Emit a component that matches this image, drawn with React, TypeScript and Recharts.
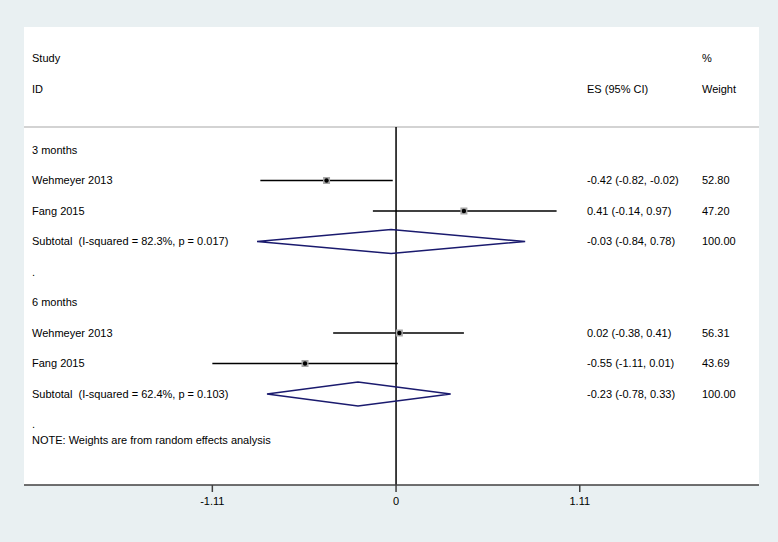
import { ScatterChart, Scatter, XAxis, YAxis, ReferenceLine, CartesianGrid } from 'recharts'

// rows are counted from the "Study" header line (row 0)
const studyNames = ['Wehmeyer 2013', 'Fang 2015', 'Wehmeyer 2013', 'Fang 2015']
const studyRows = [4, 5, 9, 10]
const studyES = [-0.42, 0.41, 0.02, -0.55]
const studyLow = [-0.82, -0.14, -0.38, -1.11]
const studyHigh = [-0.02, 0.97, 0.41, 0.01]
const studyWeights = ['52.80', '47.20', '56.31', '43.69']

const subtotalLabels = [
  'Subtotal  (I-squared = 82.3%, p = 0.017)',
  'Subtotal  (I-squared = 62.4%, p = 0.103)',
]
const subtotalRows = [6, 11]
const subtotalES = [-0.03, -0.23]
const subtotalLow = [-0.84, -0.78]
const subtotalHigh = [0.78, 0.33]
const subtotalWeights = ['100.00', '100.00']

const groupLabels = ['3 months', '6 months']
const groupRows = [3, 8]
const spacerRows = [7, 12]
const noteText = 'NOTE: Weights are from random effects analysis'
const noteRow = 12.52

const xTicks = [-1.11, 0, 1.11]
const xDomain = [-2.248, 2.193]
const yDomain = [-1.033, 13.984]
const headerRule = 2.246
const diamondHalf = 0.39

const FONT = '"Liberation Sans", Arial, Helvetica, sans-serif'
const COL_LEFT = 32
const COL_ES = 587
const COL_WEIGHT = 702

const fmt = (v: number) => v.toFixed(2)
const esText = (e: number, l: number, h: number) => `${fmt(e)} (${fmt(l)}, ${fmt(h)})`

type TextRowT = { x: number; y: number; left?: string; es?: string; w?: string }

const textRows: TextRowT[] = [
  { x: 0, y: 0, left: 'Study', w: '%' },
  { x: 0, y: 1, left: 'ID', es: 'ES (95% CI)', w: 'Weight' },
  ...groupLabels.map((g, i) => ({ x: 0, y: groupRows[i], left: g })),
  ...studyNames.map((n, i) => ({
    x: 0,
    y: studyRows[i],
    left: n,
    es: esText(studyES[i], studyLow[i], studyHigh[i]),
    w: studyWeights[i],
  })),
  ...subtotalLabels.map((s, i) => ({
    x: 0,
    y: subtotalRows[i],
    left: s,
    es: esText(subtotalES[i], subtotalLow[i], subtotalHigh[i]),
    w: subtotalWeights[i],
  })),
  ...spacerRows.map(r => ({ x: 0, y: r, left: '.' })),
  { x: 0, y: noteRow, left: noteText },
]

const markerData = studyES.map((e, i) => ({ x: e, y: studyRows[i] }))

const ciData = studyES.map((_, i) => [
  { x: studyLow[i], y: studyRows[i] },
  { x: studyHigh[i], y: studyRows[i] },
])

const diamondData = subtotalES.map((e, i) => [
  { x: subtotalLow[i], y: subtotalRows[i] },
  { x: e, y: subtotalRows[i] - diamondHalf },
  { x: subtotalHigh[i], y: subtotalRows[i] },
  { x: e, y: subtotalRows[i] + diamondHalf },
  { x: subtotalLow[i], y: subtotalRows[i] },
])

// eslint-disable-next-line @typescript-eslint/no-explicit-any
const TextShape = (props: any) => {
  const { cy, payload } = props
  const common = { fontSize: 11, fill: '#000', fontFamily: FONT, dy: '0.35em', style: { whiteSpace: 'pre' as const } }
  return (
    <g>
      {payload.left != null && <text x={COL_LEFT} y={cy} {...common}>{payload.left}</text>}
      {payload.es != null && <text x={COL_ES} y={cy} {...common}>{payload.es}</text>}
      {payload.w != null && <text x={COL_WEIGHT} y={cy} {...common}>{payload.w}</text>}
    </g>
  )
}

// eslint-disable-next-line @typescript-eslint/no-explicit-any
const MarkerShape = (props: any) => {
  const { cx, cy } = props
  return (
    <g>
      <rect x={cx - 3.5} y={cy - 3.5} width={7} height={7} fill="#a6a6a6" />
      <circle cx={cx} cy={cy} r={2.2} fill="#000" />
    </g>
  )
}

const Empty = () => <g />

export default function App() {
  return (
    <div style={{ position: 'absolute', left: 0, top: 0, width: 778, height: 542, background: '#e9f0f2', fontFamily: FONT }}>
      <ScatterChart width={778} height={542} margin={{ top: 27, right: 19, bottom: 27, left: 24 }}>
        <CartesianGrid horizontal={false} vertical={false} fill="#ffffff" stroke="none" />
        <XAxis
          type="number"
          dataKey="x"
          domain={xDomain}
          allowDataOverflow
          ticks={xTicks}
          tickFormatter={(v: number) => String(v)}
          height={30}
          stroke="#404040"
          strokeWidth={1.5}
          tickSize={7}
          tickMargin={5}
          tick={{ fontSize: 11, fill: '#000', fontFamily: FONT }}
        />
        <YAxis type="number" dataKey="y" domain={yDomain} allowDataOverflow reversed hide />
        <ReferenceLine y={headerRule} stroke="#c4c4c4" strokeWidth={1.5} />
        <ReferenceLine
          segment={[{ x: 0, y: headerRule }, { x: 0, y: yDomain[1] }]}
          stroke="#000"
          strokeWidth={1.5}
        />
        {ciData.map((d, i) => (
          <Scatter
            key={`ci-${i}`}
            data={d}
            line={{ stroke: '#000', strokeWidth: 1.5 }}
            shape={Empty}
            isAnimationActive={false}
          />
        ))}
        {diamondData.map((d, i) => (
          <Scatter
            key={`dia-${i}`}
            data={d}
            line={{ stroke: '#1a1a6e', strokeWidth: 1.5 }}
            shape={Empty}
            isAnimationActive={false}
          />
        ))}
        <Scatter data={markerData} shape={MarkerShape} isAnimationActive={false} />
        <Scatter data={textRows} shape={TextShape} isAnimationActive={false} />
      </ScatterChart>
    </div>
  )
}
